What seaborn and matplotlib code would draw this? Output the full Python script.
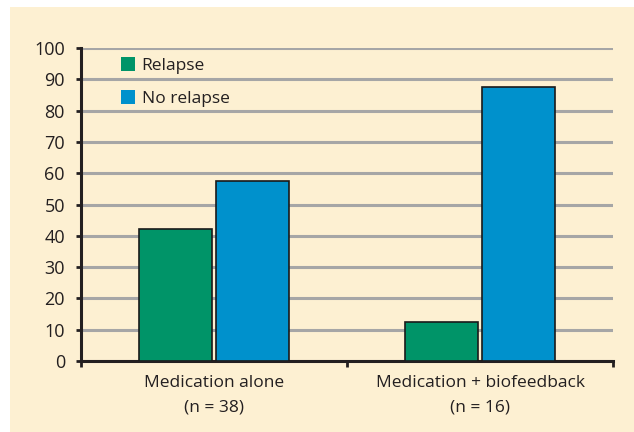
import matplotlib
matplotlib.use("Agg")
import matplotlib.pyplot as plt
import seaborn as sns
import pandas as pd

groups = ["Medication alone\n(n = 38)", "Medication + biofeedback\n(n = 16)"]
outcomes = ["Relapse", "No relapse"]
relapse = [42.1, 12.5]
no_relapse = [57.6, 87.5]
yticks = [0, 10, 20, 30, 40, 50, 60, 70, 80, 90, 100]

df = pd.DataFrame({
    "group": groups * 2,
    "outcome": [outcomes[0]] * 2 + [outcomes[1]] * 2,
    "value": relapse + no_relapse,
})

sns.set_style("white")
plt.rcParams["font.family"] = ["Open Sans", "DejaVu Sans"]

fig = plt.figure(figsize=(6.34, 4.32), dpi=100)
fig.patch.set_facecolor("white")
bg = fig.add_axes([10 / 634, 0, 1 - 10 / 634, (432 - 7) / 432], zorder=0)
bg.set_facecolor("#fdf0d2")
bg.set_xticks([])
bg.set_yticks([])
for s in bg.spines.values():
    s.set_visible(False)

ax = fig.add_axes([81 / 634, (432 - 361) / 432, (613 - 81) / 634, (361 - 48) / 432], zorder=1)
ax.set_facecolor("none")

sns.barplot(data=df, x="group", y="value", hue="outcome", hue_order=outcomes,
            palette=["#009468", "#0091cc"], saturation=1, width=0.58, gap=0.05,
            edgecolor="#1a1a1a", linewidth=1.2, ax=ax, zorder=3, legend=True)

ax.set_ylim(0, 100)
ax.set_xlim(-0.5, 1.5)
ax.set_yticks(yticks)
ax.set_yticklabels([str(t) for t in yticks], fontsize=13, color="#231f20")
ax.yaxis.grid(True, color="#a6a6a6", linewidth=2.2, zorder=0)
ax.set_axisbelow(True)

ax.set_xticks([-0.5, 0.5, 1.5])
ax.set_xticklabels(["", "", ""])
ax.set_xticks([0, 1], minor=True)
ax.set_xticklabels(groups, minor=True, fontsize=12.5, color="#231f20", linespacing=1.75)
ax.tick_params(axis="x", which="minor", length=0, pad=10)
ax.tick_params(axis="x", which="major", length=4, width=2, color="#231f20", direction="out", bottom=True)
ax.tick_params(axis="y", length=3.6, width=2, color="#231f20", direction="out", pad=8, left=True)
ax.set_xlabel("")
ax.set_ylabel("")

for s in ["top", "right"]:
    ax.spines[s].set_visible(False)
for s in ["left", "bottom"]:
    ax.spines[s].set_color("#231f20")
    ax.spines[s].set_linewidth(2.2)

handles, labels = ax.get_legend_handles_labels()
for h in handles:
    h.set_edgecolor("none")
ax.legend(handles, labels, loc="upper left", bbox_to_anchor=(0.045, 1.022),
          frameon=False, fontsize=12.5, handlelength=0.86, handleheight=0.86,
          handletextpad=0.35, labelspacing=0.95, labelcolor="#231f20")

fig.savefig("out.png", dpi=100, facecolor=fig.get_facecolor())
